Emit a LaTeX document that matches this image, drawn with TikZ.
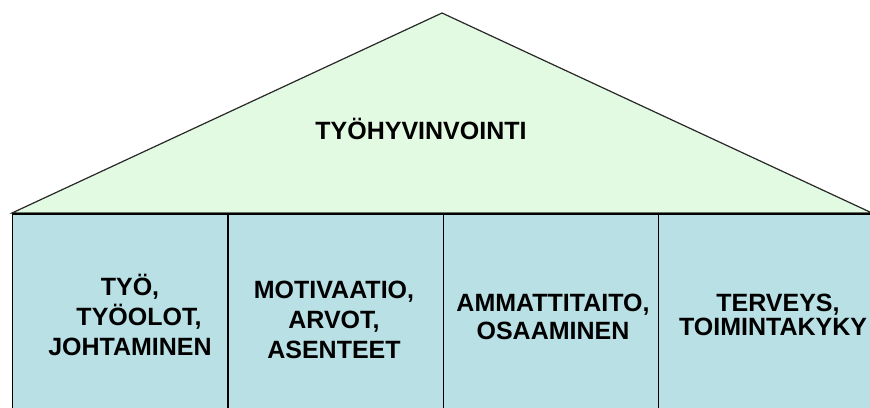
\documentclass[tikz,border=0pt]{standalone}
\usepackage{fontspec}
\setmainfont{Liberation Sans}
\definecolor{roofgreen}{RGB}{226,250,226}
\definecolor{pillarblue}{RGB}{185,224,228}
\definecolor{edgegray}{RGB}{40,40,40}
\begin{document}
\begin{tikzpicture}[x=1pt,y=-1pt,
  pillar/.style={draw=black, line width=1.2pt, fill=pillarblue, rectangle, minimum width=215pt, minimum height=210pt, anchor=north west, inner sep=0pt},
  pillartext/.style={font=\bfseries\fontsize{25}{30}\selectfont, align=center, anchor=base, inner sep=0pt},
  rooftext/.style={font=\bfseries\fontsize{25}{30}\selectfont, inner sep=0pt}]
\useasboundingbox (0,0) rectangle (870,407);
\clip (0,0) rectangle (870,407);
\fill[white] (0,0) rectangle (870,407);
% pillars
\node[pillar] (p1) at (12,214) {};
\node[pillar] (p2) at (228,214) {};
\node[pillar] (p3) at (443,214) {};
\node[pillar] (p4) at (658,214) {};
% roof
\coordinate (apex) at (442,13);
\coordinate (eaveL) at (12,213);
\coordinate (eaveR) at (872,213);
\draw[edgegray, line width=1.2pt, fill=roofgreen, line join=miter] (eaveL) -- (apex) -- (eaveR) -- cycle;
\draw[black, line width=1.2pt] (p1.north west) -- (p4.north east);
\node[rooftext] (roof) at (421,129) {TYÖHYVINVOINTI};
% texts (base anchor = baseline of the last line)
\node[pillartext] (t1) at (130,355) {TYÖ,\hspace{22pt}\\\hspace{18pt}TYÖOLOT,\\JOHTAMINEN};
\node[pillartext] (t2) at (334,358) {MOTIVAATIO,\\ARVOT,\\ASENTEET};
\node[pillartext, font=\bfseries\fontsize{25}{28}\selectfont] (t3) at (553,339) {AMMATTITAITO,\\OSAAMINEN};
\node[pillartext, font=\bfseries\fontsize{25}{24}\selectfont] (t4) at (773,335) {\hspace{10pt}TERVEYS,\\TOIMINTAKYKY};
\end{tikzpicture}
\end{document}
